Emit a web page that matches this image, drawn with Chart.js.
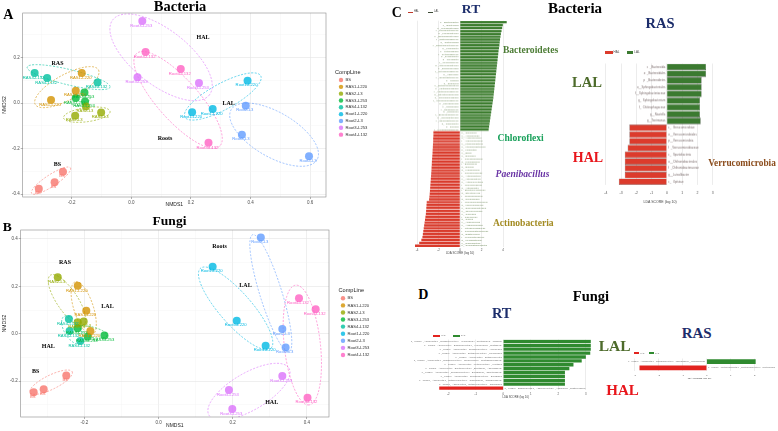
<!DOCTYPE html>
<html>
<head>
<meta charset="utf-8">
<script src="https://cdn.jsdelivr.net/npm/chart.js@4.4.0/dist/chart.umd.min.js"></script>
<style>
  html, body { margin: 0; padding: 0; background: #fff; }
  #fig { position: relative; width: 778px; height: 431px; overflow: hidden; }
  #fig canvas { position: absolute; }
  .t { position: absolute; white-space: nowrap; line-height: 1; transform: translate(-50%, -50%);
       font-family: 'Liberation Serif', 'Times New Roman', serif; font-weight: bold; }
  .k { position: absolute; }
  .s { position: absolute; white-space: nowrap; line-height: 1; font-family: 'Liberation Sans', Arial, sans-serif; color: #444; }
</style>
</head>
<body>
<div id="fig"></div>
<script>
// ---- NMDS data (A: bacteria, B: fungi) ----
const groups = ['BS', 'RAS1-L220', 'RAS2-L3', 'RAS3-L253', 'RAS4-L132', 'Root1-L220', 'Root2-L3', 'Root3-L253', 'Root4-L132'];
const groupColors = ['#F8766D', '#D39200', '#93AA00', '#00BA38', '#00C19F', '#00B9E3', '#619CFF', '#DB72FB', '#FF61C3'];

const bacNmds1 = [
  [-0.310, -0.257, -0.229], [-0.166, -0.269, -0.186], [-0.188, -0.101, -0.152],
  [-0.186, -0.157, -0.155], [-0.324, -0.282, -0.113], [0.390, 0.204, 0.273],
  [0.384, 0.371, 0.596], [0.037, 0.021, 0.227], [0.048, 0.166, 0.259]
];
const bacNmds2 = [
  [-0.377, -0.348, -0.302], [0.132, 0.014, 0.054], [-0.056, -0.041, -0.015],
  [0.022, 0.047, 0.007], [0.132, 0.110, 0.090], [0.098, -0.040, -0.026],
  [-0.012, -0.139, -0.234], [0.361, 0.114, 0.088], [0.224, 0.150, -0.175]
];
// ellipse per group: centre x, centre y, semi-major vector x, y, minor/major ratio
const bacEllipses = [
  [-0.269, -0.341, 0.065, 0.056, 0.25], [-0.216, 0.070, 0.106, 0.076, 0.35], [-0.149, -0.051, 0.078, 0.014, 0.30],
  [-0.171, 0.014, 0.033, 0.012, 0.50], [-0.210, 0.114, 0.139, -0.044, 0.18], [0.307, 0.029, 0.127, 0.091, 0.30],
  [0.479, -0.139, 0.144, -0.110, 0.45], [0.100, 0.201, 0.162, -0.165, 0.45], [0.157, 0.014, 0.139, -0.204, 0.33]
];

const fungNmds1 = [
  [-0.337, -0.310, -0.249], [-0.218, -0.195, -0.184], [-0.272, -0.202, -0.218],
  [-0.218, -0.191, -0.146], [-0.242, -0.240, -0.211], [0.146, 0.211, 0.289],
  [0.276, 0.334, 0.343], [0.334, 0.190, 0.199], [0.379, 0.424, 0.402]
];
const fungNmds2 = [
  [-0.247, -0.235, -0.177], [0.202, 0.097, 0.011], [0.238, 0.051, 0.048],
  [0.023, -0.013, -0.008], [0.062, 0.011, -0.031], [0.283, 0.055, -0.051],
  [0.406, 0.020, -0.058], [-0.179, -0.238, -0.318], [0.150, 0.103, -0.271]
];
const fungEllipses = [
  [-0.290, -0.205, 0.057, 0.044, 0.30], [-0.202, 0.107, 0.023, -0.112, 0.35], [-0.247, 0.142, 0.045, -0.105, 0.35],
  [-0.184, 0.008, 0.045, -0.016, 0.30], [-0.233, 0.016, 0.022, -0.057, 0.50], [0.208, 0.107, 0.095, -0.169, 0.30],
  [0.303, 0.171, 0.049, -0.247, 0.18], [0.244, -0.245, 0.108, 0.099, 0.40], [0.388, -0.048, 0.018, -0.253, 0.30]
];

const bacXMajor = [-0.2, 0, 0.2, 0.4, 0.6], bacXMinor = [-0.3, -0.1, 0.1, 0.3, 0.5];
const bacYMajor = [-0.4, -0.2, 0, 0.2], bacYMinor = [-0.3, -0.1, 0.1, 0.3];
const fungXMajor = [-0.2, 0, 0.2, 0.4], fungXMinor = [-0.3, -0.1, 0.1, 0.3];
const fungYMajor = [-0.2, 0, 0.2, 0.4], fungYMinor = [-0.3, -0.1, 0.1, 0.3];

// ---- LEfSe data (C: bacteria, D: fungi) ----
const cRtLalTaxa = ['p__Bacteroidetes', 'c__Bacteroidia', 'o__Flavobacteriales', 'f__Flavobacteriaceae', 'g__Flavobacterium',
  'o__Sphingobacteriales', 'f__Chitinophagaceae', 'g__Chitinophaga', 'f__Sphingobacteriaceae', 'g__Pedobacter',
  'o__Cytophagales', 'f__Cytophagaceae', 'g__Dyadobacter', 'g__Flexibacter', 'f__Weeksellaceae', 'g__Chryseobacterium',
  'o__Burkholderiales', 'f__Comamonadaceae', 'g__Variovorax', 'f__Oxalobacteraceae', 'g__Massilia', 'g__Duganella',
  'c__Betaproteobacteria', 'o__Xanthomonadales', 'f__Xanthomonadaceae', 'g__Stenotrophomonas', 'o__Pseudomonadales',
  'f__Pseudomonadaceae', 'g__Pseudomonas', 'o__Rhizobiales', 'f__Rhizobiaceae', 'g__Rhizobium', 'f__Bradyrhizobiaceae',
  'o__Caulobacterales', 'f__Caulobacteraceae', 'g__Caulobacter', 'g__Devosia', 'f__Hyphomicrobiaceae'];
const cRtLalScores = [4.34, 3.98, 3.92, 3.86, 3.80, 3.76, 3.72, 3.69, 3.66, 3.62, 3.58, 3.55, 3.52, 3.49, 3.46, 3.43,
  3.40, 3.37, 3.34, 3.31, 3.28, 3.25, 3.22, 3.19, 3.16, 3.13, 3.10, 3.06, 3.02, 2.98, 2.94, 2.90, 2.86, 2.82, 2.78,
  2.74, 2.70, 2.66];
const cRtHalTaxa = ['p__Chloroflexi', 'c__Anaerolineae', 'o__Anaerolineales', 'f__Anaerolineaceae', 'c__Ktedonobacteria',
  'o__Ktedonobacterales', 'p__Firmicutes', 'c__Bacilli', 'o__Bacillales', 'f__Paenibacillaceae', 'g__Paenibacillus',
  'f__Bacillaceae', 'g__Bacillus', 'g__Lysinibacillus', 'f__Planococcaceae', 'p__Actinobacteria', 'c__Actinobacteria',
  'o__Actinomycetales', 'f__Micrococcaceae', 'g__Arthrobacter', 'f__Streptomycetaceae', 'g__Streptomyces',
  'f__Nocardioidaceae', 'g__Nocardioides', 'f__Micromonosporaceae', 'g__Micromonospora', 'o__Solirubrobacterales',
  'c__Thermoleophilia', 'o__Gaiellales', 'f__Gaiellaceae', 'g__Gaiella', 'c__Acidimicrobiia', 'o__Acidimicrobiales',
  'f__Intrasporangiaceae', 'f__Geodermatophilaceae', 'g__Blastococcus', 'f__Mycobacteriaceae', 'g__Mycobacterium',
  'c__Rubrobacteria', 'p__Gemmatimonadetes'];
const cRtHalScores = [2.48, 2.48, 2.50, 2.50, 2.52, 2.53, 2.55, 2.56, 2.58, 2.60, 2.62, 2.63, 2.65, 2.66, 2.68, 2.70,
  2.72, 2.74, 2.76, 2.78, 2.80, 2.82, 2.85, 2.88, 3.10, 3.12, 3.14, 3.16, 3.18, 3.22, 3.26, 3.30, 3.34, 3.38, 3.42,
  3.46, 3.50, 3.60, 3.80, 4.19];
const cRtTicks = [-4, -2, 0, 2, 4];

const cRasLalTaxa = ['c__Bacteroidia', 'o__Bacteroidales', 'p__Bacteroidetes', 'o__Sphingobacteriales',
  'f__Sphingobacteriaceae', 'g__Sphingobacterium', 'f__Chitinophagaceae', 'g__Niastella', 'g__Terrimonas'];
const cRasLalScores = [2.57, 2.57, 2.28, 2.28, 2.28, 2.17, 2.17, 2.17, 2.22];
const cRasHalTaxa = ['c__Verrucomicrobiae', 'o__Verrucomicrobiales', 'p__Verrucomicrobia', 'f__Verrucomicrobiaceae',
  'c__Spartobacteria', 'o__Chthoniobacterales', 'f__Chthoniobacteraceae', 'g__Luteolibacter', 'c__Opitutae'];
const cRasHalScores = [2.46, 2.46, 2.46, 2.57, 2.76, 2.76, 2.76, 2.76, 3.15];
const cRasTicks = [-4, -3, -2, -1, 0, 1, 2, 3];

const dRtLalTaxa = [
  'k__Fungi.p__Ascomycota.c__Sordariomycetes.o__Hypocreales.f__Nectriaceae.g__Fusarium',
  'k__Fungi.p__Ascomycota.c__Sordariomycetes.o__Hypocreales.f__Nectriaceae',
  'k__Fungi.p__Ascomycota.c__Sordariomycetes.o__Hypocreales',
  'k__Fungi.p__Ascomycota.c__Dothideomycetes.o__Pleosporales',
  'k__Fungi.p__Ascomycota.c__Dothideomycetes',
  'k__Fungi.p__Ascomycota.c__Sordariomycetes.o__Glomerellales.f__Plectosphaerellaceae',
  'k__Fungi.p__Ascomycota.c__Leotiomycetes.o__Helotiales',
  'k__Fungi.p__Ascomycota.c__Eurotiomycetes.o__Eurotiales.f__Aspergillaceae',
  'k__Fungi.p__Ascomycota.c__Sordariomycetes.o__Sordariales.f__Chaetomiaceae',
  'k__Fungi.p__Ascomycota.c__Sordariomycetes.o__Sordariales',
  'k__Fungi.p__Ascomycota.c__Dothideomycetes.o__Capnodiales.f__Cladosporiaceae',
  'k__Fungi.p__Ascomycota.c__Dothideomycetes.o__Capnodiales'];
const dRtLalScores = [3.18, 3.18, 3.18, 3.16, 3.00, 2.85, 2.55, 2.40, 2.24, 2.24, 2.24, 2.24];
const dRtHalTaxa = ['k__Fungi.p__Basidiomycota.c__Agaricomycetes.o__Agaricales.f__Psathyrellaceae'];
const dRtHalScores = [2.33];
const dRtTicks = [-2, -1, 0, 1, 2, 3];

const dRasLalTaxa = ['k__Fungi.p__Ascomycota.c__Sordariomycetes.o__Microascales.f__Microascaceae'];
const dRasLalScores = [2.04];
const dRasHalTaxa = ['k__Fungi.p__Mortierellomycota.c__Mortierellomycetes.o__Mortierellales'];
const dRasHalScores = [2.80];
const dRasTicks = [-3, -2, -1, 0, 1, 2];

// ---- helpers ----
const SANS = "'Liberation Sans', Arial, sans-serif";
const fig = document.getElementById('fig');

function hexA(hex, a) {
  const n = parseInt(hex.slice(1), 16);
  return `rgba(${n >> 16},${(n >> 8) & 255},${n & 255},${a})`;
}
const isMaj = (list, v) => list.some(m => Math.abs(m - v) < 1e-6);

function addCanvas(box) {
  const c = document.createElement('canvas');
  c.width = box.w; c.height = box.h;
  Object.assign(c.style, { left: box.l + 'px', top: box.t + 'px', width: box.w + 'px', height: box.h + 'px' });
  fig.appendChild(c);
  return c;
}

function txt(s, cx, cy, size, color, extra) {
  const d = document.createElement('div');
  d.className = 't';
  d.textContent = s;
  Object.assign(d.style, { left: cx + 'px', top: cy + 'px', fontSize: size + 'px', color: color || '#000' }, extra || {});
  fig.appendChild(d);
}

function keyBox(x, y, w, h, color, label, size) {
  const k = document.createElement('div');
  k.className = 'k';
  Object.assign(k.style, { left: x + 'px', top: y + 'px', width: w + 'px', height: h + 'px', background: color });
  fig.appendChild(k);
  const s = document.createElement('div');
  s.className = 's';
  s.textContent = label;
  Object.assign(s.style, { left: (x + w + 1) + 'px', top: (y + h / 2 - size / 2) + 'px', fontSize: size + 'px' });
  fig.appendChild(s);
}

// ---- NMDS scatter panel ----
function nmdsChart(p) {
  const canvas = addCanvas(p.box);
  const xAxisH = p.box.t + p.box.h - p.area.y1;

  const axis = (major, minor, range, title, titlePad, fit) => ({
    type: 'linear', min: range[0], max: range[1],
    afterBuildTicks: s => { s.ticks = major.concat(minor).sort((a, b) => a - b).map(v => ({ value: v })); },
    afterFit: fit,
    ticks: { autoSkip: false, maxRotation: 0, padding: 1, color: '#4d4d4d', font: { size: 4.5, family: SANS },
      callback: v => isMaj(major, v) ? v.toFixed(1) : '' },
    grid: {
      color: c => c.tick && isMaj(major, c.tick.value) ? '#e4e4e4' : '#f2f2f2',
      lineWidth: c => c.tick && isMaj(major, c.tick.value) ? 0.6 : 0.4,
      tickLength: 2,
      tickColor: c => c.tick && isMaj(major, c.tick.value) ? '#7f7f7f' : 'rgba(0,0,0,0)'
    },
    border: { display: false },
    title: { display: true, text: title, color: '#222', font: { size: 5, family: SANS }, padding: titlePad }
  });

  const decor = {
    id: 'nmdsDecor',
    beforeDatasetsDraw(chart) {
      const { ctx, chartArea: a, scales: { x, y } } = chart;
      ctx.save();
      ctx.beginPath();
      ctx.rect(a.left, a.top, a.right - a.left, a.bottom - a.top);
      ctx.clip();
      ctx.setLineDash([2, 1.5]);
      ctx.lineWidth = 0.6;
      p.ell.forEach((e, i) => {
        const cx = x.getPixelForValue(e[0]), cy = y.getPixelForValue(e[1]);
        const ex = x.getPixelForValue(e[0] + e[2]), ey = y.getPixelForValue(e[1] + e[3]);
        const r = Math.hypot(ex - cx, ey - cy);
        ctx.strokeStyle = groupColors[i];
        ctx.beginPath();
        ctx.ellipse(cx, cy, r, r * e[4], Math.atan2(ey - cy, ex - cx), 0, Math.PI * 2);
        ctx.stroke();
      });
      ctx.restore();
    },
    afterDatasetsDraw(chart) {
      const { ctx } = chart;
      ctx.save();
      ctx.font = `4.2px ${SANS}`;
      ctx.textAlign = 'center';
      ctx.textBaseline = 'middle';
      groups.forEach((g, i) => {
        ctx.fillStyle = groupColors[i];
        chart.getDatasetMeta(i).data.forEach(pt => ctx.fillText(g, pt.x - 1, pt.y + 4.5));
      });
      ctx.restore();
    },
    afterDraw(chart) {
      const { ctx, chartArea: a } = chart;
      const L = p.legend;
      ctx.save();
      ctx.strokeStyle = '#8a8a8a';
      ctx.lineWidth = 0.6;
      ctx.strokeRect(a.left, a.top, a.right - a.left, a.bottom - a.top);
      ctx.textAlign = 'left';
      ctx.textBaseline = 'middle';
      ctx.fillStyle = '#222';
      ctx.font = `5.6px ${SANS}`;
      ctx.fillText('CompLine', L.x - p.box.l, L.y - p.box.t);
      ctx.font = `4.2px ${SANS}`;
      groups.forEach((g, i) => {
        const yy = L.y0 + i * L.step - p.box.t;
        ctx.fillStyle = hexA(groupColors[i], 0.8);
        ctx.beginPath();
        ctx.arc(L.kx - p.box.l, yy, 2.2, 0, Math.PI * 2);
        ctx.fill();
        ctx.fillStyle = '#333';
        ctx.fillText(g, L.tx - p.box.l, yy);
      });
      ctx.restore();
    }
  };

  new Chart(canvas, {
    type: 'scatter',
    data: {
      datasets: groups.map((g, i) => ({
        label: g,
        data: p.xs[i].map((x, j) => ({ x, y: p.ys[i][j] })),
        backgroundColor: hexA(groupColors[i], 0.8),
        borderWidth: 0,
        pointRadius: 4,
        pointHoverRadius: 4
      }))
    },
    options: {
      responsive: false, animation: false, events: [], devicePixelRatio: 1,
      layout: { autoPadding: false, padding: { left: 0, top: p.area.y0 - p.box.t, right: p.box.l + p.box.w - p.area.x1, bottom: 0 } },
      plugins: { legend: { display: false }, tooltip: { enabled: false } },
      scales: {
        x: axis(p.xMajor, p.xMinor, p.xRange, 'NMDS1', { top: 0, bottom: p.xTitlePad }, s => { s.height = xAxisH; }),
        y: axis(p.yMajor, p.yMinor, p.yRange, 'NMDS2', { top: 2, bottom: 0 }, s => { s.width = p.area.x0 - p.box.l; })
      }
    },
    plugins: [decor]
  });
}

// ---- LEfSe bar panel ----
function ldaChart(p) {
  const canvas = addCanvas(p.box);
  const xAxisH = p.box.t + p.box.h - p.area.y1;
  const taxa = p.lalTaxa.concat(p.halTaxa);
  const scores = p.lalScores.concat(p.halScores.map(v => -v));

  const barLabels = {
    id: 'barLabels',
    afterDatasetsDraw(chart) {
      const { ctx, scales: { x } } = chart;
      const z = x.getPixelForValue(0);
      ctx.save();
      ctx.font = `${p.labelFont}px ${SANS}`;
      ctx.textBaseline = 'middle';
      ctx.fillStyle = p.labelColor;
      chart.getDatasetMeta(0).data.forEach((bar, i) => {
        const up = scores[i] > 0;
        ctx.textAlign = up ? 'right' : 'left';
        ctx.fillText(taxa[i], up ? z - 1.5 : z + 1.5, bar.y);
      });
      ctx.restore();
    }
  };

  new Chart(canvas, {
    type: 'bar',
    data: {
      labels: taxa,
      datasets: [{
        data: scores,
        backgroundColor: scores.map(v => v > 0 ? p.pos : p.neg),
        borderColor: p.border || 'rgba(0,0,0,0)',
        borderWidth: p.bw || 0,
        barPercentage: p.barPct,
        categoryPercentage: 1
      }]
    },
    options: {
      indexAxis: 'y', responsive: false, animation: false, events: [], devicePixelRatio: 1,
      layout: { autoPadding: false, padding: { left: p.area.x0 - p.box.l, right: p.box.l + p.box.w - p.area.x1, top: p.area.y0 - p.box.t, bottom: 0 } },
      plugins: { legend: { display: false }, tooltip: { enabled: false } },
      scales: {
        x: {
          type: 'linear', min: p.xRange[0], max: p.xRange[1],
          afterBuildTicks: s => { s.ticks = p.ticks.map(v => ({ value: v })); },
          afterFit: s => { s.height = xAxisH; },
          ticks: { autoSkip: false, maxRotation: 0, padding: p.tickPad, color: '#555', font: { size: p.tickFont, family: SANS } },
          grid: { color: '#d8d8d8', lineWidth: 0.5, drawTicks: false },
          border: { display: false },
          title: { display: true, text: 'LDA SCORE (log 10)', color: '#444', font: { size: p.tickFont, family: SANS }, padding: 0 }
        },
        y: { display: false }
      }
    },
    plugins: [barLabels]
  });
}

// ---- Panel A ----
nmdsChart({
  box: { l: 0, t: 0, w: 380, h: 215 }, area: { x0: 22.7, x1: 326, y0: 13, y1: 197 },
  xs: bacNmds1, ys: bacNmds2, ell: bacEllipses,
  xRange: [-0.364, 0.653], yRange: [-0.413, 0.396],
  xMajor: bacXMajor, xMinor: bacXMinor, yMajor: bacYMajor, yMinor: bacYMinor,
  xTitlePad: 7.7,
  legend: { x: 335, y: 72, kx: 341, tx: 345.5, y0: 80, step: 6.83 }
});
txt('A', 8.3, 14.7, 14);
txt('Bacteria', 180, 6, 14.5);
[['HAL', 203, 36.7], ['RAS', 57.5, 62.7], ['LAL', 228.7, 102.7], ['Roots', 165, 138], ['BS', 57.3, 164]]
  .forEach(l => txt(l[0], l[1], l[2], 6));

// ---- Panel B ----
nmdsChart({
  box: { l: 0, t: 215, w: 380, h: 216 }, area: { x0: 20.7, x1: 329, y0: 230, y1: 417 },
  xs: fungNmds1, ys: fungNmds2, ell: fungEllipses,
  xRange: [-0.372, 0.46], yRange: [-0.352, 0.438],
  xMajor: fungXMajor, xMinor: fungXMinor, yMajor: fungYMajor, yMinor: fungYMinor,
  xTitlePad: 2.3,
  legend: { x: 338.5, y: 290.5, kx: 343, tx: 347.5, y0: 298.3, step: 7.08 }
});
txt('B', 7.2, 227, 13.5);
txt('Fungi', 169.5, 221, 13.5);
[['Roots', 219.5, 246], ['RAS', 65, 261.7], ['LAL', 107.5, 305.7], ['LAL', 245.5, 285],
 ['HAL', 48.3, 345.7], ['BS', 35.7, 371], ['HAL', 271.7, 401.7]]
  .forEach(l => txt(l[0], l[1], l[2], 6));

// ---- Panel C ----
ldaChart({
  box: { l: 400, t: 15, w: 115, h: 239.5 }, area: { x0: 410.6, x1: 509.5, y0: 20.7, y1: 246.7 },
  lalTaxa: cRtLalTaxa, lalScores: cRtLalScores, halTaxa: cRtHalTaxa, halScores: cRtHalScores,
  xRange: [-4.6, 4.6], ticks: cRtTicks, pos: '#3c7d2e', neg: '#d93b2c', barPct: 0.82,
  tickFont: 3, tickPad: 0.8, labelFont: 2.4, labelColor: '#6f8a5a'
});
ldaChart({
  box: { l: 598, t: 55, w: 122, h: 148.8 }, area: { x0: 602.4, x1: 717.2, y0: 63.5, y1: 185 },
  lalTaxa: cRasLalTaxa, lalScores: cRasLalScores, halTaxa: cRasHalTaxa, halScores: cRasHalScores,
  xRange: [-4.2, 3.3], ticks: cRasTicks, pos: '#3b7a30', neg: '#dc3b2c', border: '#333', bw: 0.4, barPct: 0.94,
  tickFont: 3.5, tickPad: 6.2, labelFont: 2.8, labelColor: '#7a6a6a'
});
txt('C', 396.7, 13.3, 13.8);
txt('RT', 471, 8.7, 13.5, '#1c2d6b');
txt('Bacteria', 575, 7.5, 15);
txt('RAS', 660, 23, 14.5, '#1c2d6b');
txt('Bacteroidetes', 530.5, 49.7, 9.6, '#4d7d36');
txt('Chloroflexi', 520.7, 137.5, 9.6, '#18a05a');
txt('Paenibacillus', 522.5, 174, 9.6, '#6a35a5', { fontStyle: 'italic' });
txt('Actinobacteria', 523.3, 222.5, 9.6, '#a38b22');
txt('LAL', 587, 82, 14.6, '#4d6b2b');
txt('HAL', 588, 157.7, 14, '#e8161c');
txt('Verrucomicrobia', 742, 163.7, 9.3, '#8b4c1c');
keyBox(408, 12, 5, 1.4, '#c0392b', 'HAL', 2.6);
keyBox(428, 12, 5, 1.4, '#3d4a35', 'LAL', 2.6);
keyBox(605, 50.5, 7.5, 3.6, '#dc3b2c', 'HAL', 3);
keyBox(626.7, 50.5, 6.6, 3.6, '#3b7a30', 'LAL', 3);

// ---- Panel D ----
ldaChart({
  box: { l: 405, t: 330, w: 200, h: 69 }, area: { x0: 431.8, x1: 599.6, y0: 339.5, y1: 390 },
  lalTaxa: dRtLalTaxa, lalScores: dRtLalScores, halTaxa: dRtHalTaxa, halScores: dRtHalScores,
  xRange: [-2.6, 3.5], ticks: dRtTicks, pos: '#2f8a2f', neg: '#e2231f', barPct: 0.85,
  tickFont: 2.8, tickPad: 2.6, labelFont: 2.2, labelColor: '#666'
});
ldaChart({
  box: { l: 625, t: 350, w: 150, h: 30 }, area: { x0: 629.9, x1: 769.1, y0: 358.5, y1: 371 },
  lalTaxa: dRasLalTaxa, lalScores: dRasLalScores, halTaxa: dRasHalTaxa, halScores: dRasHalScores,
  xRange: [-3.2, 2.6], ticks: dRasTicks, pos: '#2f8a2f', neg: '#e2231f', barPct: 0.78,
  tickFont: 2.5, tickPad: 2.5, labelFont: 2.1, labelColor: '#666'
});
txt('D', 423.3, 295, 14);
txt('Fungi', 591, 296, 14.5);
txt('RT', 501.7, 313.3, 14.4, '#1c2d6b');
txt('RAS', 696.7, 332.8, 15, '#1c2d6b');
txt('LAL', 614.7, 346.2, 15.5, '#4d6b2b');
txt('HAL', 622.5, 389.7, 15, '#e8161c');
keyBox(433.3, 334.5, 6.7, 2.4, '#e2231f', 'HAL', 2.4);
keyBox(453.3, 334.5, 6.7, 2.4, '#2f8a2f', 'LAL', 2.4);
keyBox(634.3, 351.5, 5, 2.4, '#e2231f', 'HAL', 2.2);
keyBox(649.3, 351.5, 5, 2.4, '#2f8a2f', 'LAL', 2.2);
</script>
</body>
</html>
